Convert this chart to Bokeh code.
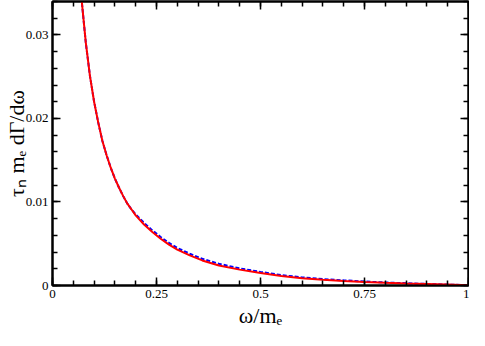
from bokeh.plotting import figure
from bokeh.models import Range1d, FixedTicker, LinearAxis, CustomJSTickFormatter
from bokeh.embed import file_html
from bokeh.resources import INLINE

# ---- data ----
omega = [0.065, 0.07, 0.08, 0.09, 0.10, 0.11, 0.12, 0.13, 0.14, 0.15, 0.16, 0.17,
         0.18, 0.19, 0.20, 0.22, 0.24, 0.26, 0.28, 0.30, 0.33, 0.36, 0.40, 0.45,
         0.50, 0.55, 0.60, 0.65, 0.70, 0.75, 0.80, 0.85, 0.90, 0.95, 1.00]
rate_red = [0.0374, 0.0342, 0.0291, 0.0251, 0.0220, 0.0195, 0.0173, 0.0156, 0.0141,
            0.0128, 0.0117, 0.0107, 0.0098, 0.0091, 0.0084, 0.0073, 0.0064, 0.0056,
            0.0049, 0.0043, 0.0036, 0.0030, 0.0024, 0.0019, 0.00150, 0.00113,
            0.00087, 0.00069, 0.00055, 0.00043, 0.00033, 0.00025, 0.00018, 0.00011,
            0.00004]
rate_blue = [0.0374, 0.0342, 0.0291, 0.0251, 0.0220, 0.0195, 0.0173, 0.0156, 0.0141,
             0.0128, 0.0117, 0.0107, 0.0098, 0.0091, 0.0085, 0.0075, 0.0066, 0.0058,
             0.0051, 0.0045, 0.0038, 0.0032, 0.0026, 0.00205, 0.00163, 0.00125,
             0.00097, 0.00077, 0.00062, 0.00048, 0.00036, 0.00027, 0.00019, 0.00011,
             0.00004]
x_ticks = [0, 0.25, 0.5, 0.75, 1]
x_tick_labels = ["0", "0.25", "0.5", "0.75", "1"]
y_ticks = [0, 0.01, 0.02, 0.03]
y_tick_labels = ["0", "0.01", "0.02", "0.03"]
x_title = "ω/mₑ"
y_title = "τₙ mₑ dΓ/dω"

x_minor = [i * 0.05 for i in range(21)]
y_minor = [i * 0.002 for i in range(18)]

W, H = 469, 330
FONT = "'Liberation Serif'"

p = figure(width=W, height=H, x_range=Range1d(0, 1), y_range=Range1d(0, 0.034),
           output_backend="svg", toolbar_location=None,
           min_border_left=4, min_border_right=1, min_border_top=1, min_border_bottom=1)
p.grid.visible = False
p.outline_line_color = "black"
p.outline_line_width = 2
p.background_fill_color = "white"
p.border_fill_color = "white"


def style_axis(ax, ticks, minor, labels):
    ax.ticker = FixedTicker(ticks=ticks, minor_ticks=minor)
    ax.axis_line_color = "black"
    ax.axis_line_width = 2
    ax.major_tick_in = 8
    ax.major_tick_out = 0
    ax.minor_tick_in = 5
    ax.minor_tick_out = 0
    ax.major_tick_line_width = 1.5
    ax.minor_tick_line_width = 1.5
    ax.major_tick_line_color = "black"
    ax.minor_tick_line_color = "black"
    ax.major_label_text_font = FONT
    ax.major_label_text_font_size = "13px"
    ax.major_label_text_color = "black"
    ax.axis_label_text_font = FONT
    ax.axis_label_text_font_size = "22px"
    ax.axis_label_text_font_style = "normal"
    ax.axis_label_text_color = "black"
    if labels is None:
        ax.formatter = CustomJSTickFormatter(code="return '';")
        ax.major_label_standoff = 0
    else:
        ax.major_label_overrides = dict(zip(ticks, labels))
        ax.major_label_standoff = 4


xa, ya = p.xaxis[0], p.yaxis[0]
style_axis(xa, x_ticks, x_minor, x_tick_labels)
style_axis(ya, y_ticks, y_minor, y_tick_labels)
xa.axis_label = x_title
xa.axis_label_standoff = 2
ya.axis_label = y_title
ya.axis_label_standoff = -6

top = LinearAxis()
style_axis(top, x_ticks, x_minor, None)
p.add_layout(top, "above")
right = LinearAxis()
style_axis(right, y_ticks, y_minor, None)
p.add_layout(right, "right")

p.line(omega, rate_blue, line_color="#0000ff", line_width=2, line_dash="4 2")
p.line(omega, rate_red, line_color="#ff0000", line_width=2)

open("out.html", "w").write(file_html(p, INLINE))
